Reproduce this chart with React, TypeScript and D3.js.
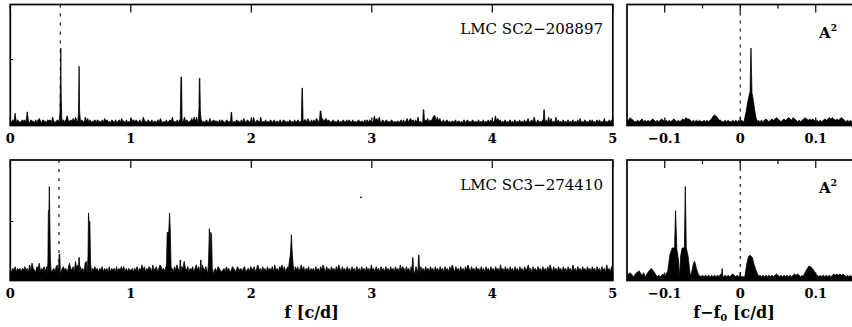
import React, { useEffect, useRef } from 'react';
import * as d3 from 'd3';

const WIDTH = 852;
const HEIGHT = 327;

// ---- data ----
const F_TICKS = [0, 1, 2, 3, 4, 5];
const DF_TICKS = [-0.1, 0, 0.1];
const DF_MINOR = [-0.05, 0.05];
const DF_LABELS = ['\u22120.1', '0', '0.1'];
const STAR_NAMES = ['LMC SC2\u2212208897', 'LMC SC3\u2212274410'];
const F0 = [0.415, 0.404]; // dashed line in the left panels
const Y_TICK = [0.545, 0.49];

// noise floor, one digit per 0.01 c/d (0..5 c/d)
const NOISE_TOP =
  '2132813212323192132213134213221323152123213131362' +
  '23242524213215241312231322131423121321312314221312' +
  '14231321312522132131221314212131232512131315251312' +
  '24252514231213214123222131321231214121322131421321' +
  '31521321512131213213122131232121312131231221331421' +
  '31314315242342321231213121321313213121231221313132' +
  '12624251231231213212122131312413423131512131324132' +
  '46625242131231212213122121312312132121312131213131' +
  '21624231213121312131213121312412315213121321315141' +
  '21513121312131213121314121312131312131312141213131';
const NOISE_BOT =
  '43546354535464537485436583546365483453674535645358' +
  '54639574645389645354645354635453635453635464635354' +
  '45354635474635465374563576453645765364754365954635' +
  '46357463575463746354536543453645346543654535634536' +
  '54635745364536454637453657463564745364635746354635' +
  '45364536475364536453647536453645364536453645364537' +
  '45364536453645364536453746536453645364736453645364' +
  '53645364536453647536453645364753645364536453645364' +
  '53645374536453645364536453645745364536453645364753' +
  '64536453645364537453645364536453645364536453745364';
const NOISE_BASE = [0.014, 0.028];
const NOISE_UNIT = [0.011, 0.0145];

// peaks in the left panels: [f, amplitude] profiles
const PEAKS_TOP = [
  [[0.405, 0.03], [0.412, 0.1], [0.415, 0.27], [0.419, 0.64], [0.422, 0.27], [0.427, 0.06], [0.433, 0.03]],
  [[0.56, 0.03], [0.566, 0.1], [0.571, 0.49], [0.575, 0.12], [0.582, 0.03]],
  [[1.41, 0.03], [1.416, 0.4], [1.421, 0.4], [1.426, 0.03]],
  [[1.56, 0.03], [1.566, 0.15], [1.569, 0.39], [1.573, 0.39], [1.577, 0.12], [1.585, 0.03]],
  [[1.828, 0.03], [1.833, 0.11], [1.837, 0.11], [1.842, 0.03]],
  [[2.415, 0.02], [2.421, 0.31], [2.424, 0.31], [2.43, 0.02]],
  [[2.565, 0.03], [2.572, 0.12], [2.578, 0.12], [2.585, 0.03]],
  [[3.423, 0.03], [3.428, 0.13], [3.432, 0.13], [3.437, 0.03]],
  [[4.423, 0.03], [4.428, 0.13], [4.432, 0.13], [4.437, 0.03]],
];
const PEAKS_BOT = [
  [[0.305, 0.05], [0.312, 0.15], [0.316, 0.58], [0.321, 0.58], [0.324, 0.78], [0.327, 0.58], [0.332, 0.2], [0.34, 0.05]],
  [[0.4, 0.05], [0.405, 0.22], [0.41, 0.22], [0.416, 0.05]],
  [[0.565, 0.05], [0.569, 0.19], [0.573, 0.19], [0.577, 0.05]],
  [[0.638, 0.05], [0.645, 0.2], [0.649, 0.56], [0.654, 0.49], [0.66, 0.49], [0.666, 0.15], [0.675, 0.05]],
  [[1.295, 0.06], [1.302, 0.4], [1.315, 0.4], [1.322, 0.56], [1.328, 0.4], [1.334, 0.12], [1.342, 0.06]],
  [[1.405, 0.05], [1.409, 0.17], [1.413, 0.17], [1.417, 0.05]],
  [[1.575, 0.05], [1.579, 0.17], [1.583, 0.17], [1.587, 0.05]],
  [[1.638, 0.06], [1.645, 0.15], [1.652, 0.43], [1.658, 0.2], [1.664, 0.4], [1.67, 0.38], [1.676, 0.1], [1.685, 0.05]],
  [[2.305, 0.06], [2.315, 0.15], [2.325, 0.22], [2.333, 0.38], [2.34, 0.22], [2.348, 0.12], [2.36, 0.06]],
  [[3.333, 0.05], [3.338, 0.19], [3.342, 0.19], [3.347, 0.05]],
  [[3.383, 0.05], [3.388, 0.21], [3.392, 0.21], [3.397, 0.05]],
];

// zoom around f0: one digit per 0.002 c/d (-0.15..0.15)
const NOISE_RTOP =
  '3354322323' + '4232323432' + '3234323232' + '3432323435' + '4432323232' +
  '2323234676' + '5332232322' + '3232323222' + '2211222323' + '2343234345' +
  '4323434543' + '5432323454' + '3434323232' + '3434545434' + '34543232323';
const NOISE_RBOT =
  '3454323232' + '4565432323' + '2323434323' + '3232323232' + '3232323232' +
  '3232323232' + '3243232323' + '4323232232' + '3232323232' + '3232323234' +
  '3232323232' + '3434323232' + '3232323232' + '3232323434' + '34343232323';
const PEAKS_RTOP = [
  [[0.005, 0.03], [0.008, 0.12], [0.01, 0.2], [0.0115, 0.24], [0.013, 0.28], [0.0135, 0.45], [0.0142, 0.64],
    [0.015, 0.42], [0.0155, 0.27], [0.017, 0.22], [0.019, 0.13], [0.021, 0.06], [0.023, 0.03]],
];
const PEAKS_RBOT = [
  [[-0.142, 0.03], [-0.138, 0.06], [-0.134, 0.08], [-0.13, 0.04]],
  [[-0.126, 0.03], [-0.122, 0.07], [-0.118, 0.1], [-0.114, 0.07], [-0.11, 0.03]],
  [[-0.1, 0.03], [-0.096, 0.08], [-0.093, 0.22], [-0.09, 0.27], [-0.087, 0.27], [-0.0857, 0.58], [-0.084, 0.26],
    [-0.082, 0.18], [-0.0805, 0.03], [-0.079, 0.2], [-0.077, 0.27], [-0.074, 0.27], [-0.0728, 0.78],
    [-0.0715, 0.27], [-0.069, 0.2], [-0.067, 0.08]],
  [[-0.065, 0.05], [-0.062, 0.14], [-0.0605, 0.16], [-0.058, 0.1], [-0.055, 0.04]],
  [[-0.025, 0.03], [-0.024, 0.1], [-0.023, 0.03]],
  [[0.006, 0.03], [0.009, 0.15], [0.011, 0.2], [0.013, 0.21], [0.016, 0.19], [0.018, 0.14], [0.021, 0.08], [0.024, 0.04]],
  [[0.083, 0.03], [0.087, 0.08], [0.091, 0.12], [0.094, 0.11], [0.098, 0.08], [0.102, 0.03]],
];
const NOISE_BASE_R = 0.01;
const NOISE_UNIT_R = 0.011;

// a stray speck in the lower left panel
const SPECK = { f: 2.91, a: 0.69 };

// noise samples + peak profiles merged into one series
const buildSeries = (noise, base, unit, x0, x1, groups) => {
  const digits = noise.split('').map(Number);
  const step = (x1 - x0) / (digits.length - 1);
  const pts = [];
  digits.forEach((d, i) => {
    const x = x0 + i * step;
    if (groups.some(g => x >= g[0][0] && x <= g[g.length - 1][0])) return;
    pts.push([x, base + d * unit]);
  });
  groups.forEach(g => g.forEach(p => pts.push([p[0], Math.max(p[1], base)])));
  return pts.sort((a, b) => a[0] - b[0]);
};

const App = () => {
  const svgRef = useRef(null);

  useEffect(() => {
    const svg = d3.select(svgRef.current);
    svg.selectAll('*').remove();

    const rows = [
      { y0: 4.5, y1: 125.5 },
      { y0: 160, y1: 280.5 },
    ];
    const xLeft = d3.scaleLinear().domain([0, 5]).range([10.3, 612.8]);
    const xRight = d3.scaleLinear().domain([-0.15, 0.15]).range([627, 853.5]);

    const serif = 'DejaVu Serif, serif';
    const leftSeries = [
      buildSeries(NOISE_TOP, NOISE_BASE[0], NOISE_UNIT[0], 0, 5, PEAKS_TOP),
      buildSeries(NOISE_BOT, NOISE_BASE[1], NOISE_UNIT[1], 0, 5, PEAKS_BOT),
    ];
    const rightSeries = [
      buildSeries(NOISE_RTOP, NOISE_BASE_R, NOISE_UNIT_R, -0.15, 0.15, PEAKS_RTOP),
      buildSeries(NOISE_RBOT, NOISE_BASE_R, NOISE_UNIT_R, -0.15, 0.15, PEAKS_RBOT),
    ];

    const defs = svg.append('defs');

    rows.forEach((row, r) => {
      const y = d3.scaleLinear().domain([0, 1]).range([row.y1, row.y0]);

      [
        { x: xLeft, data: leftSeries[r], key: 'L' },
        { x: xRight, data: rightSeries[r], key: 'R' },
      ].forEach(({ x, data, key }) => {
        const [px0, px1] = x.range();
        const id = `clip${key}${r}`;
        defs.append('clipPath').attr('id', id)
          .append('rect')
          .attr('x', px0).attr('y', row.y0)
          .attr('width', px1 - px0).attr('height', row.y1 - row.y0);

        const g = svg.append('g').attr('clip-path', `url(#${id})`);

        // dashed line at f0
        const fx = key === 'L' ? x(F0[r]) : x(0);
        g.append('line')
          .attr('x1', fx).attr('x2', fx)
          .attr('y1', row.y0).attr('y2', row.y1)
          .attr('stroke', '#000')
          .attr('stroke-width', 1.1)
          .attr('stroke-dasharray', key === 'L' ? '3,6' : '3,5');

        const area = d3.area()
          .x(d => x(d[0]))
          .y0(y(0))
          .y1(d => y(d[1]));
        g.append('path')
          .datum(data)
          .attr('d', area)
          .attr('fill', '#000')
          .attr('stroke', '#000')
          .attr('stroke-width', 0.8)
          .attr('stroke-linejoin', 'miter');

        // frame
        svg.append('rect')
          .attr('x', px0).attr('y', row.y0)
          .attr('width', px1 - px0).attr('height', row.y1 - row.y0)
          .attr('fill', 'none')
          .attr('stroke', '#000')
          .attr('stroke-width', 1.7);

        // ticks on top and bottom edges
        const major = key === 'L' ? F_TICKS : DF_TICKS;
        const minor = key === 'L' ? [] : DF_MINOR;
        [...major.map(v => [v, 8]), ...minor.map(v => [v, 4])].forEach(([v, len]) => {
          svg.append('line')
            .attr('x1', x(v)).attr('x2', x(v))
            .attr('y1', row.y0).attr('y2', row.y0 + len)
            .attr('stroke', '#000').attr('stroke-width', 1.2);
          svg.append('line')
            .attr('x1', x(v)).attr('x2', x(v))
            .attr('y1', row.y1).attr('y2', row.y1 - len)
            .attr('stroke', '#000').attr('stroke-width', 1.2);
        });

        // tick labels
        const labels = key === 'L' ? F_TICKS.map(String) : DF_LABELS;
        major.forEach((v, i) => {
          svg.append('text')
            .attr('x', x(v))
            .attr('y', row.y1 + 17.5)
            .attr('text-anchor', 'middle')
            .attr('font-family', serif)
            .attr('font-weight', 'bold')
            .attr('font-size', 13)
            .text(labels[i]);
        });
      });

      // small amplitude tick on the left edge
      svg.append('line')
        .attr('x1', xLeft.range()[0]).attr('x2', xLeft.range()[0] + 3)
        .attr('y1', y(Y_TICK[r])).attr('y2', y(Y_TICK[r]))
        .attr('stroke', '#000').attr('stroke-width', 1);

      // star name
      svg.append('text')
        .attr('x', 603)
        .attr('y', row.y0 + 29.5)
        .attr('text-anchor', 'end')
        .attr('font-family', serif)
        .attr('font-size', 15)
        .text(STAR_NAMES[r]);

      // A^2
      const a2 = svg.append('text')
        .attr('x', 819)
        .attr('y', row.y0 + 33)
        .attr('font-family', serif)
        .attr('font-weight', 'bold')
        .attr('font-size', 15);
      a2.append('tspan').text('A');
      a2.append('tspan').attr('dy', -7).attr('font-size', 9).text('2');

      if (r === 1) {
        svg.append('circle')
          .attr('cx', xLeft(SPECK.f))
          .attr('cy', y(SPECK.a))
          .attr('r', 0.9)
          .attr('fill', '#000');
      }
    });

    // axis titles
    const t1 = svg.append('text')
      .attr('x', (xLeft.range()[0] + xLeft.range()[1]) / 2)
      .attr('y', 318)
      .attr('text-anchor', 'middle')
      .attr('font-family', serif)
      .attr('font-weight', 'bold')
      .attr('font-size', 16);
    t1.append('tspan').text('f [c/d]');

    const t2 = svg.append('text')
      .attr('x', 734)
      .attr('y', 318)
      .attr('text-anchor', 'middle')
      .attr('font-family', serif)
      .attr('font-weight', 'bold')
      .attr('font-size', 16);
    t2.append('tspan').text('f\u2212f');
    t2.append('tspan').attr('dy', 3).attr('font-size', 10).text('0');
    t2.append('tspan').attr('dy', -3).text(' [c/d]');
  }, []);

  return (
    <svg
      ref={svgRef}
      width={WIDTH}
      height={HEIGHT}
      style={{ position: 'absolute', left: 0, top: 0, background: '#fff' }}
    />
  );
};

export default App;
